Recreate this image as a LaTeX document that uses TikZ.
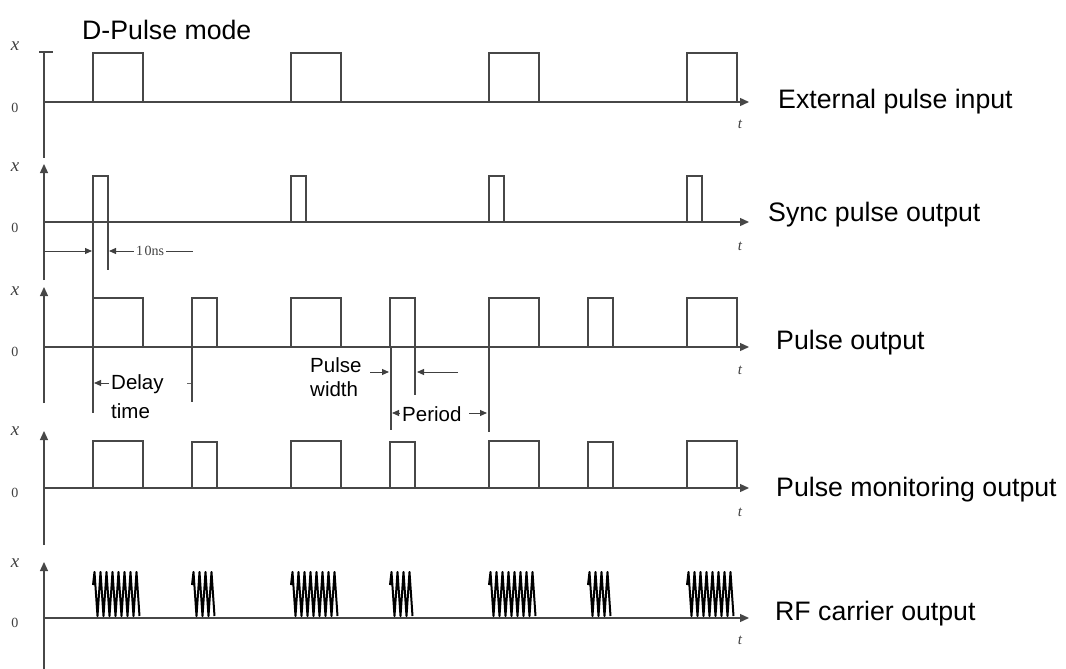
\documentclass[tikz,border=0pt]{standalone}
\usepackage{fontspec}
\setmainfont{Liberation Sans}
\newfontfamily\serifface{Liberation Serif}
\usetikzlibrary{arrows.meta}
\begin{document}
\begin{tikzpicture}[x=1pt,y=-1pt,
  ln/.style={draw=black!72, line width=1.3pt},
  axisv/.style={ln, -{Triangle[length=9pt,width=8pt]}},
  axish/.style={ln, -{Triangle[length=9pt,width=8pt]}},
  sig/.style={ln, line join=miter},
  rf/.style={draw=black, line width=2pt, line join=round},
  dim/.style={draw=black!75, line width=1pt, -{Triangle[length=7pt,width=6pt]}},
  big/.style={font=\fontsize{26.7}{30}\selectfont, anchor=west, inner sep=0pt},
  mid/.style={font=\fontsize{20.5}{23}\selectfont, anchor=west, inner sep=0pt},
  varlbl/.style={font=\serifface\itshape\fontsize{19}{21}\selectfont, inner sep=0pt, text=black!75},
  zerolbl/.style={font=\serifface\fontsize{14}{16}\selectfont, inner sep=0pt, text=black!75},
  tlbl/.style={font=\serifface\itshape\fontsize{15}{17}\selectfont, inner sep=0pt, text=black!75},
  smalllbl/.style={font=\serifface\fontsize{14}{16}\selectfont, inner sep=0pt, text=black!75}
]
\useasboundingbox (0,0) rectangle (1066,669);

\node[big] (title) at (82,30) {D-Pulse mode};

% ---------- Panel 1: External pulse input ----------
\draw[ln] (39,52) -- (53,52);
\draw[ln] (44,52) -- (44,158);
\draw[axish] (44,102) -- (749,102);
\foreach \s in {93,291,489,687} {
  \draw[sig] (\s,102) -- (\s,53) -- (\s+50,53) -- (\s+50,102);
}
\node[varlbl] (x1) at (15,46) {x};
\node[zerolbl] (z1) at (15,108) {0};
\node[tlbl] (t1) at (740,124) {t};
\node[big] (l1) at (778,102) {External pulse input};

% ---------- Panel 2: Sync pulse output ----------
\draw[axisv] (44,280) -- (44,164);
\draw[axish] (44,222) -- (749,222);
\foreach \s in {93,291,489,687} {
  \draw[sig] (\s,222) -- (\s,176) -- (\s+15,176) -- (\s+15,222);
}
\node[varlbl] (x2) at (15,167) {x};
\node[zerolbl] (z2) at (15,228) {0};
\node[tlbl] (t2) at (740,246) {t};
\node[big] (l2) at (768,215) {Sync pulse output};

% 10ns annotation
\coordinate (ea) at (93,222);
\coordinate (eb) at (93,413);
\draw[ln] (ea) -- (eb);
\coordinate (fa) at (108,222);
\coordinate (fb) at (108,270);
\draw[ln] (fa) -- (fb);
\coordinate (da0) at (44,251);
\coordinate (da1) at (92,251);
\draw[dim] (da0) -- (da1);
\node[smalllbl] (tenns) at (150,251) {1\kern1.5pt0ns};
\coordinate (db1) at (109,251);
\draw[dim] (tenns.west) ++(-2,0) -- (db1);
\coordinate (dc1) at (193,251);
\draw[draw=black!75, line width=1pt] (tenns.east) ++(2,0) -- (dc1);

% ---------- Panel 3: Pulse output ----------
\draw[axisv] (44,403) -- (44,287);
\draw[axish] (44,347) -- (749,347);
\foreach \s in {93,291,489,687} {
  \draw[sig] (\s,347) -- (\s,298) -- (\s+50,298) -- (\s+50,347);
}
\foreach \s in {192,390,588} {
  \draw[sig] (\s,347) -- (\s,298) -- (\s+25,298) -- (\s+25,347);
}
\node[varlbl] (x3) at (15,291) {x};
\node[zerolbl] (z3) at (15,352) {0};
\node[tlbl] (t3) at (740,370) {t};
\node[big] (l3) at (776,343) {Pulse output};

% delay time
\coordinate (ga) at (192,347);
\coordinate (gb) at (192,402);
\draw[ln] (ga) -- (gb);
\coordinate (dl0) at (109,383);
\coordinate (dl1) at (94,383);
\draw[dim] (dl0) -- (dl1);
\coordinate (dr0) at (187,383);
\coordinate (dr1) at (191,383);
\draw[draw=black!60, line width=0.8pt] (dr0) -- (dr1);
\node[mid] (delay) at (111,384) {Delay};
\node[mid] (dtime) at (111,411) {time};

% pulse width
\coordinate (ha) at (391,347);
\coordinate (hb) at (391,430);
\draw[ln] (ha) -- (hb);
\coordinate (ia) at (415,347);
\coordinate (ib) at (415,395);
\draw[ln] (ia) -- (ib);
\node[mid] (pw1) at (310,365) {Pulse};
\node[mid] (pw2) at (310,389) {width};
\coordinate (pa0) at (370,372);
\coordinate (pa1) at (389,372);
\draw[dim] (pa0) -- (pa1);
\coordinate (pb0) at (458,372);
\coordinate (pb1) at (417,372);
\draw[dim] (pb0) -- (pb1);

% period
\coordinate (ja) at (489,347);
\coordinate (jb) at (489,432);
\draw[ln] (ja) -- (jb);
\node[mid] (per) at (402,414) {Period};
\coordinate (qa0) at (399,413);
\coordinate (qa1) at (392,413);
\draw[dim] (qa0) -- (qa1);
\coordinate (qb0) at (469,413);
\coordinate (qb1) at (487,413);
\draw[dim] (qb0) -- (qb1);

% ---------- Panel 4: Pulse monitoring output ----------
\draw[axisv] (44,545) -- (44,431);
\draw[axish] (44,488) -- (749,488);
\foreach \s in {93,291,489,687} {
  \draw[sig] (\s,488) -- (\s,441) -- (\s+50,441) -- (\s+50,488);
}
\foreach \s in {192,390,588} {
  \draw[sig] (\s,488) -- (\s,442) -- (\s+25,442) -- (\s+25,488);
}
\node[varlbl] (x4) at (15,431) {x};
\node[zerolbl] (z4) at (15,493) {0};
\node[tlbl] (t4) at (740,512) {t};
\node[big] (l4) at (776,490) {Pulse monitoring output};

% ---------- Panel 5: RF carrier output ----------
\draw[axisv] (44,669) -- (44,562);
\draw[axish] (44,618) -- (749,618);
\foreach \s in {93,291,489,687} {
  \draw[rf] (\s,585) \foreach \k in {0,...,7} { -- ({\s+\k*6+1.5},572) -- ({\s+\k*6+4.5},616) };
}
\foreach \s in {192,390,588} {
  \draw[rf] (\s,585) \foreach \k in {0,...,3} { -- ({\s+\k*6+1.5},572) -- ({\s+\k*6+4.5},616) };
}
\node[varlbl] (x5) at (15,563) {x};
\node[zerolbl] (z5) at (15,623) {0};
\node[tlbl] (t5) at (740,640) {t};
\node[big] (l5) at (775,614) {RF carrier output};
\end{tikzpicture}
\end{document}
